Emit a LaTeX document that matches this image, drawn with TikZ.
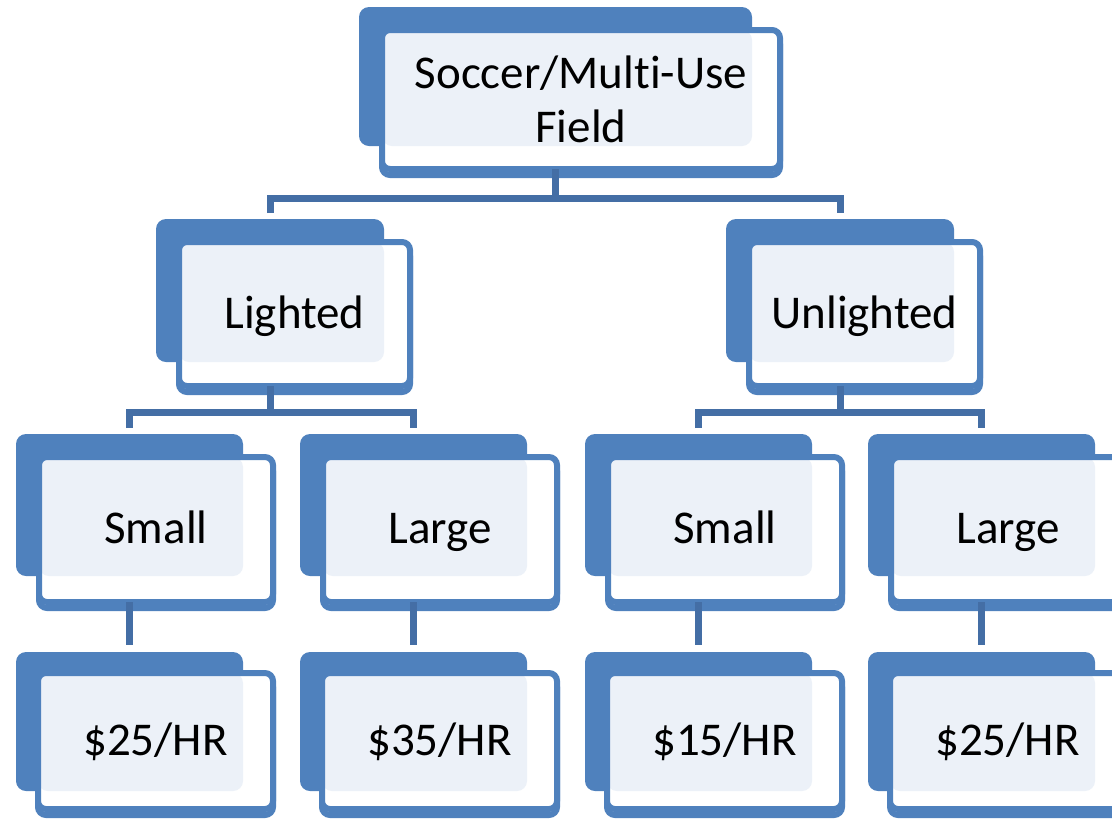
\documentclass[tikz,border=0pt]{standalone}
\usepackage{fontspec}
\setmainfont{Carlito}[Ligatures=NoCommon]
\usetikzlibrary{positioning}

\definecolor{boxblue}{RGB}{79,129,189}
\definecolor{paleblue}{RGB}{236,241,248}
\definecolor{linkblue}{RGB}{68,110,165}

\begin{document}
\begin{tikzpicture}[x=0.5pt, y=-0.5pt,
  back/.style={fill=boxblue, rounded corners=5pt, inner sep=0pt, outer sep=0pt, anchor=north west},
  card/.style={draw=boxblue, line width=3pt, fill=white, rounded corners=4pt, inner sep=0pt, outer sep=0pt,
    font=\fontsize{23.5}{27}\selectfont,
    preaction={draw=boxblue, line width=3pt, transform canvas={yshift=-3pt}},
    path picture={\fill[paleblue, rounded corners=5pt] (path picture bounding box.north west) rectangle (#1.south east);}},
  one/.style={text height=15pt, text depth=1pt},
  mid/.style={minimum width=114pt, minimum height=71.5pt},
  low/.style={minimum width=113.5pt, minimum height=71pt},
  leaf/.style={minimum width=113.5pt, minimum height=69.5pt},
  link/.style={draw=linkblue, line width=3.5pt}]

  \useasboundingbox (0,0) rectangle (1112,820);

  % top
  \node[back, minimum width=196.5pt, minimum height=69.5pt] (Fb) at (359,7) {};
  \node[card=Fb, align=center, minimum width=199pt, minimum height=69.5pt, below right = 11.5pt and 11.5pt of Fb.north west] (F) {Soccer/Multi-Use\\Field};

  % lighted / unlighted
  \node[back, mid] (Lb) at (156,219) {};
  \node[card=Lb, one, minimum width=115.5pt, minimum height=72pt, below right = 11.5pt and 11.5pt of Lb.north west] (L) {Lighted};
  \node[back, mid] (Ub) at (726,219) {};
  \node[card=Ub, one, minimum width=115.5pt, minimum height=72pt, below right = 11.5pt and 11.5pt of Ub.north west] (U) {Unlighted};

  % sizes
  \node[back, low] (Lsb) at (16,434) {};
  \node[back, low, right = 28.5pt of Lsb] (Llb) {};
  \node[back, low, right = 29pt of Llb] (Usb) {};
  \node[back, low, right = 28pt of Usb] (Ulb) {};
  \node[card=Lsb, one, minimum width=117pt, minimum height=72.5pt, below right = 11.5pt and 11.5pt of Lsb.north west] (Ls) {Small};
  \node[card=Llb, one, minimum width=117pt, minimum height=72.5pt, below right = 11.5pt and 11.5pt of Llb.north west] (Ll) {Large};
  \node[card=Usb, one, minimum width=117pt, minimum height=72.5pt, below right = 11.5pt and 11.5pt of Usb.north west] (Us) {Small};
  \node[card=Ulb, one, minimum width=117pt, minimum height=72.5pt, below right = 11.5pt and 11.5pt of Ulb.north west] (Ul) {Large};

  % prices
  \node[back, leaf, below = 38pt of Lsb] (Lspb) {};
  \node[back, leaf, below = 38pt of Llb] (Llpb) {};
  \node[back, leaf, below = 38pt of Usb] (Uspb) {};
  \node[back, leaf, below = 38pt of Ulb] (Ulpb) {};
  \node[card=Lspb, one, minimum width=117.5pt, minimum height=68pt, below right = 10.5pt and 11pt of Lspb.north west] (Lsp) {\$25/HR};
  \node[card=Llpb, one, minimum width=117.5pt, minimum height=68pt, below right = 10.5pt and 11pt of Llpb.north west] (Llp) {\$35/HR};
  \node[card=Uspb, one, minimum width=117.5pt, minimum height=68pt, below right = 10.5pt and 11pt of Uspb.north west] (Usp) {\$15/HR};
  \node[card=Ulpb, one, minimum width=117.5pt, minimum height=68pt, below right = 10.5pt and 11pt of Ulpb.north west] (Ulp) {\$25/HR};

  % connectors
  \draw[link] (Fb.south |- F.south) -- ++(0,29) coordinate (t1);
  \draw[link] ([yshift=3pt]Lb.north) |- (t1) -| ([yshift=3pt]Ub.north);
  \draw[link] (Lb.south |- L.south) -- ++(0,26) coordinate (t2);
  \draw[link] ([yshift=3pt]Lsb.north) |- (t2) -| ([yshift=3pt]Llb.north);
  \draw[link] (Ub.south |- U.south) -- ++(0,26) coordinate (t3);
  \draw[link] ([yshift=3pt]Usb.north) |- (t3) -| ([yshift=3pt]Ulb.north);
  \draw[link] (Lsb.south |- Ls.south) -- ([yshift=3.5pt]Lspb.north);
  \draw[link] (Llb.south |- Ll.south) -- ([yshift=3.5pt]Llpb.north);
  \draw[link] (Usb.south |- Us.south) -- ([yshift=3.5pt]Uspb.north);
  \draw[link] (Ulb.south |- Ul.south) -- ([yshift=3.5pt]Ulpb.north);

\end{tikzpicture}
\end{document}
